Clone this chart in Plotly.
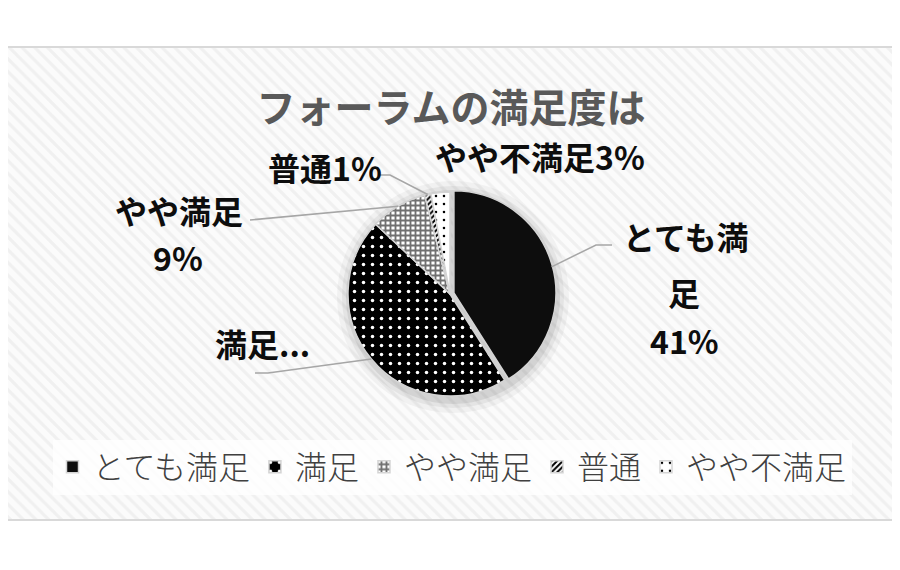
""" pie chart: forum satisfaction survey
"""
import math

import plotly.graph_objects as go

# data
labels = ['とても満足', '満足', 'やや満足', '普通', 'やや不満足']
values = [41, 46, 9, 1, 3]

# label texts as they appear next to the pie (one entry per line)
label_lines = [
    ['とても満', '足', '41%'],
    ['満足...'],
    ['やや満足', '9%'],
    ['普通1%'],
    ['やや不満足3%'],
]

W, H = 900, 570
OFF = 8  # page margin of the browser
CX, CY, R = 450, 294, 102
PULL = 0.04
FONT = 'Noto Sans CJK JP'


def px(x):
    """ screen x -> paper
    """
    return (x - OFF) / W


def py(y):
    """ screen y -> paper
    """
    return 1 - (y - OFF) / H


def slice_edge(idx):
    """ point on the pie edge at the middle of slice idx
    """
    total = sum(values)
    before = sum(values[:idx])
    ang = 2 * math.pi * (before + values[idx] / 2) / total
    return CX + R * math.sin(ang), CY - R * math.cos(ang)


def main():
    """ main-function
    """
    fig = go.Figure()

    # striped background panel
    fig.add_trace(go.Scatter(
        x=[4, 893, 893, 4, 4], y=[47, 47, 520, 520, 47],
        mode='lines', fill='toself', line=dict(width=0),
        fillcolor='white',
        fillpattern=dict(shape='\\', fgcolor='#e6e6e6', bgcolor='#fbfbfb',
                         size=9, solidity=0.35),
        hoverinfo='skip', showlegend=False))

    # soft shadow behind the pie
    for grow, alpha in [(14, 0.04), (9, 0.05), (5, 0.07)]:
        rr = R + grow
        fig.add_trace(go.Pie(
            values=[1], labels=['shadow'], sort=False, textinfo='none',
            hoverinfo='skip', showlegend=False,
            marker=dict(colors=['rgba(0,0,0,%s)' % alpha], line=dict(width=0)),
            domain=dict(x=[px(CX + 3 - rr), px(CX + 3 + rr)],
                        y=[py(CY + 3 + rr), py(CY + 3 - rr)])))

    rr = R * (1 + PULL)
    fig.add_trace(go.Pie(
        labels=labels, values=values, sort=False, direction='clockwise',
        rotation=0, textinfo='none', pull=[PULL, 0, 0, 0, 0],
        marker=dict(
            colors=['#0d0d0d', 'black', 'white', 'white', 'white'],
            line=dict(color='#d4d4d4', width=1.5),
            pattern=dict(
                shape=['', '.', '+', '/', '.'],
                fgcolor=['#0d0d0d', 'white', '#707070', 'black', 'black'],
                bgcolor=['#0d0d0d', 'black', 'white', 'white', 'white'],
                size=[8, 9, 5, 4, 8],
                solidity=[0.5, 0.12, 0.6, 0.5, 0.08],
                fillmode='replace')),
        domain=dict(x=[px(CX - rr), px(CX + rr)],
                    y=[py(CY + rr), py(CY - rr)])))

    # label positions (line centres) and leader line elbows
    label_pos = [
        [(685, 236), (684, 292), (684, 340)],
        [(262, 343)],
        [(179, 210), (178, 257)],
        [(325, 167)],
        [(540, 156)],
    ]
    leaders = {
        0: [(596, 245), (612, 245)],
        1: [(268, 373), (255, 373)],
        2: [(250, 220)],
        3: [(390, 175), (378, 175)],
    }

    annotations = []
    for i, lines in enumerate(label_lines):
        for txt, (lx, ly) in zip(lines, label_pos[i]):
            annotations.append(dict(
                x=lx, y=ly, xref='x', yref='y', text=txt, showarrow=False,
                xanchor='center', yanchor='middle',
                font=dict(family=FONT, size=32, color='#0d0d0d', weight='bold')))

    shapes = []
    for i, pts in leaders.items():
        sx, sy = slice_edge(i)
        if i == 0:
            sx += PULL * R * 0.9
            sy += PULL * R * 0.3
        path = 'M %.1f %.1f ' % (sx, sy) + ' '.join('L %d %d' % p for p in pts)
        shapes.append(dict(type='path', path=path, xref='x', yref='y',
                           line=dict(color='#a6a6a6', width=1.5)))

    # panel border
    shapes.append(dict(type='rect', x0=4, x1=893, y0=47, y1=520,
                       xref='x', yref='y',
                       line=dict(color='#d9d9d9', width=2)))

    fig.update_layout(
        width=W, height=H,
        margin=dict(l=0, r=0, t=0, b=0),
        paper_bgcolor='white', plot_bgcolor='white',
        xaxis=dict(range=[OFF, W + OFF], visible=False, fixedrange=True),
        yaxis=dict(range=[H + OFF, OFF], visible=False, fixedrange=True),
        title=dict(text='フォーラムの満足度は', x=px(451), xanchor='center',
                   y=py(108), yanchor='middle',
                   font=dict(family=FONT, size=39, color='#595959',
                             weight='bold')),
        legend=dict(orientation='h', x=px(452), xanchor='center',
                    y=py(467), yanchor='middle',
                    bgcolor='rgba(255,255,255,0.8)',
                    font=dict(family=FONT, size=32, color='#404040',
                              weight=300),
                    itemwidth=30, tracegroupgap=0),
        annotations=annotations,
        shapes=shapes,
    )

    fig.write_html('out.html')


if __name__ == '__main__':
    main()
